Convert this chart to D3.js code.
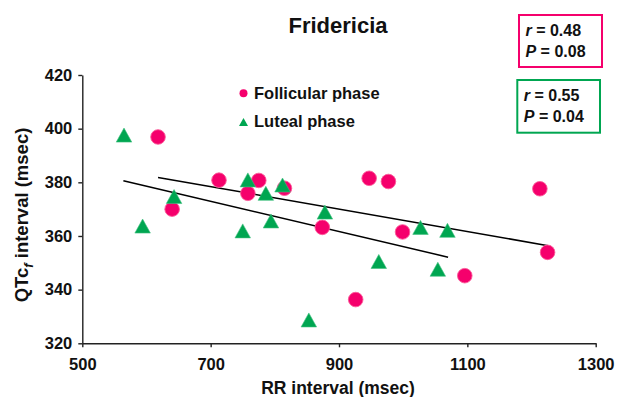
<!DOCTYPE html>
<html>
<head>
<meta charset="utf-8">
<script src="https://cdn.jsdelivr.net/npm/d3@7"></script>
<style>
  html, body { margin: 0; padding: 0; background: #fff; }
  svg { display: block; font-family: "Liberation Sans", Arial, sans-serif; font-weight: bold; }
</style>
</head>
<body>
<svg id="chart" width="617" height="397"></svg>
<script>
// RR interval (msec) and Fridericia-corrected QT (msec) per subject
const follicularRR  = [618, 640, 713, 758, 775, 815, 874, 926, 947, 977, 999, 1096, 1213, 1225];
const follicularQTc = [396.9, 370.0, 380.8, 375.9, 380.7, 377.8, 363.2, 336.3, 381.5, 380.3, 361.5, 345.2, 377.6, 353.9];

const lutealRR  = [565, 594, 643, 750, 758, 786, 794, 812, 853, 878, 962, 1027, 1054, 1069];
const lutealQTc = [397.6, 363.7, 374.7, 361.9, 380.9, 375.9, 365.6, 379.0, 328.7, 368.9, 350.5, 363.2, 347.6, 362.1];

// Regression line endpoints [RR, QTc]
const follicularFit = [[618, 381.8], [1226, 356.4]];
const lutealFit     = [[564, 380.6], [1070, 352.1]];

const xTicks = [500, 700, 900, 1100, 1300];
const yTicks = [320, 340, 360, 380, 400, 420];

const stats = [
  { r: "0.48", p: "0.08", color: "#f5006c" },
  { r: "0.55", p: "0.04", color: "#00a651" }
];

const PINK = "#f5006c";
const GREEN = "#00a651";

const svg = d3.select("#chart");

const x = d3.scaleLinear().domain([500, 1300]).range([82.3, 595.7]);
const y = d3.scaleLinear().domain([320, 420]).range([343.3, 75]);

// Axes
const xAxis = svg.append("g")
  .attr("transform", `translate(0,${y(320)})`)
  .call(d3.axisBottom(x).tickValues(xTicks).tickFormat(d3.format("d"))
    .tickSize(4).tickSizeOuter(0).tickPadding(11));
const yAxis = svg.append("g")
  .attr("transform", `translate(${x(500)},0)`)
  .call(d3.axisLeft(y).tickValues(yTicks).tickFormat(d3.format("d"))
    .tickSize(4).tickSizeOuter(0).tickPadding(6));

[xAxis, yAxis].forEach(g => {
  g.selectAll("path, line").attr("stroke", "#222").attr("stroke-width", 1.4);
  g.selectAll("text")
    .attr("fill", "#111")
    .style("font-size", "16.5px")
    .style("font-weight", "bold")
    .style("font-family", "'Liberation Sans', Arial, sans-serif");
});

// Titles
svg.append("text")
  .attr("x", 338).attr("y", 33)
  .attr("text-anchor", "middle")
  .style("font-size", "22px")
  .attr("fill", "#111")
  .text("Fridericia");

svg.append("text")
  .attr("x", 338).attr("y", 394)
  .attr("text-anchor", "middle")
  .style("font-size", "17.5px")
  .attr("fill", "#111")
  .text("RR interval (msec)");

const yTitle = svg.append("text")
  .attr("transform", "translate(28,215) rotate(-90)")
  .attr("text-anchor", "middle")
  .style("font-size", "18.5px")
  .attr("fill", "#111");
yTitle.append("tspan").text("QTc");
yTitle.append("tspan").attr("dy", 5).style("font-size", "13px").style("font-style", "italic").text("f");
yTitle.append("tspan").attr("dy", -5).text(" interval (msec)");

// Regression lines
const line = d3.line().x(d => x(d[0])).y(d => y(d[1]));
[follicularFit, lutealFit].forEach(fit => {
  svg.append("path")
    .attr("d", line(fit))
    .attr("fill", "none")
    .attr("stroke", "#000")
    .attr("stroke-width", 1.5);
});

// Follicular phase: circles
const follicular = follicularRR.map((rr, i) => ({ rr, qtc: follicularQTc[i] }));
svg.append("g").selectAll("circle")
  .data(follicular)
  .join("circle")
  .attr("cx", d => x(d.rr))
  .attr("cy", d => y(d.qtc))
  .attr("r", 7.3)
  .attr("fill", PINK)
  .attr("stroke", "#fb5a98")
  .attr("stroke-width", 0.9);

// Luteal phase: triangles
const triangle = (cx, cy, w, h) =>
  `M${cx},${cy - h / 2}L${cx + w / 2},${cy + h / 2}L${cx - w / 2},${cy + h / 2}Z`;
const luteal = lutealRR.map((rr, i) => ({ rr, qtc: lutealQTc[i] }));
svg.append("g").selectAll("path")
  .data(luteal)
  .join("path")
  .attr("d", d => triangle(x(d.rr), y(d.qtc), 15.5, 14))
  .attr("fill", GREEN)
  .attr("stroke", "#3fc07f")
  .attr("stroke-width", 0.6);

// Legend
svg.append("circle").attr("cx", 243.5).attr("cy", 93.3).attr("r", 4).attr("fill", PINK);
svg.append("text").attr("x", 254).attr("y", 99).style("font-size", "16.5px").attr("fill", "#111")
  .text("Follicular phase");
svg.append("path").attr("d", triangle(243.5, 122, 9, 8)).attr("fill", GREEN);
svg.append("text").attr("x", 254).attr("y", 126.5).style("font-size", "16.5px").attr("fill", "#111")
  .text("Luteal phase");

// Correlation boxes
const boxes = [
  { x: 519, y: 15, w: 83, h: 52 },
  { x: 517.3, y: 80, w: 82.7, h: 52.7 }
];
stats.forEach((s, i) => {
  const b = boxes[i];
  svg.append("rect")
    .attr("x", b.x).attr("y", b.y).attr("width", b.w).attr("height", b.h)
    .attr("fill", "#fff").attr("stroke", s.color).attr("stroke-width", 2);
  const t1 = svg.append("text").attr("x", b.x + 6.5).attr("y", b.y + 20.7)
    .style("font-size", "16px").attr("fill", "#111");
  t1.append("tspan").style("font-style", "italic").text("r");
  t1.append("tspan").text(` = ${s.r}`);
  const t2 = svg.append("text").attr("x", b.x + 6.5).attr("y", b.y + 42.3)
    .style("font-size", "16px").attr("fill", "#111");
  t2.append("tspan").style("font-style", "italic").text("P");
  t2.append("tspan").text(` = ${s.p}`);
});
</script>
</body>
</html>
